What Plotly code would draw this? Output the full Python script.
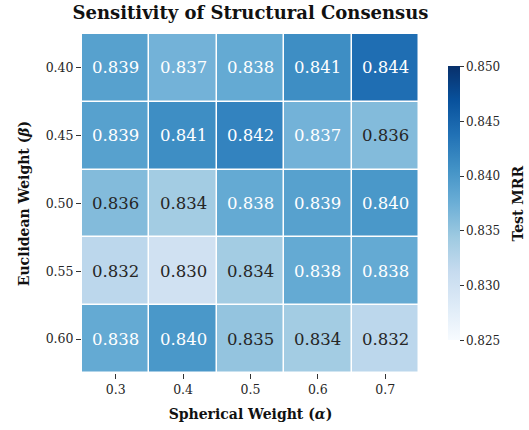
import plotly.graph_objects as go

alphas = ["0.3", "0.4", "0.5", "0.6", "0.7"]
betas = ["0.40", "0.45", "0.50", "0.55", "0.60"]
mrr = [
    [0.839, 0.837, 0.838, 0.841, 0.844],
    [0.839, 0.841, 0.842, 0.837, 0.836],
    [0.836, 0.834, 0.838, 0.839, 0.840],
    [0.832, 0.830, 0.834, 0.838, 0.838],
    [0.838, 0.840, 0.835, 0.834, 0.832],
]
zmin, zmax = 0.825, 0.850
cbar_ticks = [0.825, 0.830, 0.835, 0.840, 0.845, 0.850]

blues = [
    [0.0, "rgb(247,251,255)"], [0.125, "rgb(222,235,247)"], [0.25, "rgb(198,219,239)"],
    [0.375, "rgb(158,202,225)"], [0.5, "rgb(107,174,214)"], [0.625, "rgb(66,146,198)"],
    [0.75, "rgb(33,113,181)"], [0.875, "rgb(8,81,156)"], [1.0, "rgb(8,48,107)"],
]

FONT = "DejaVu Serif"
fig = go.Figure(go.Heatmap(
    z=mrr, x=alphas, y=betas, zmin=zmin, zmax=zmax, colorscale=blues,
    xgap=1.5, ygap=1.5, showscale=True,
    colorbar=dict(
        x=0.857, xanchor="left", xref="paper", y=0.5, yanchor="middle", len=0.808, thickness=12,
        xpad=0, ypad=0,
        outlinewidth=0, ticks="outside", ticklen=4, tickcolor="#333",
        tickvals=cbar_ticks, ticktext=[f"{t:.3f}" for t in cbar_ticks],
        tickfont=dict(family=FONT, size=12, color="#262626"),
    ),
    hoverinfo="skip",
))

for i, b in enumerate(betas):
    for j, a in enumerate(alphas):
        v = mrr[i][j]
        fig.add_annotation(x=j, y=i, text=f"{v:.3f}", showarrow=False,
                           font=dict(family=FONT, size=16.5,
                                     color="white" if v > 0.8365 else "#262626"))

fig.add_annotation(text="<b>Test MRR</b>", xref="paper", yref="paper", x=1.019, y=0.5,
                   textangle=-90, showarrow=False, xanchor="center", yanchor="middle",
                   font=dict(family=FONT, size=14, color="#111"))

fig.update_layout(
    width=529, height=430, paper_bgcolor="white", plot_bgcolor="white",
    margin=dict(l=82, r=20, t=34, b=57, autoexpand=False),
    title=dict(text="<b>Sensitivity of Structural Consensus</b>", x=0.4735, xref="container", xanchor="center",
               y=0.985, yanchor="top", font=dict(family=FONT, size=18, color="#111")),
    font=dict(family=FONT, color="#262626"),
)
fig.update_xaxes(type="category", domain=[0, 0.789],
                 title=dict(text="<b>Spherical Weight (<i>α</i>)</b>", font=dict(family=FONT, size=14, color="#111"), standoff=13),
                 ticks="outside", ticklen=5, tickcolor="#333", tickfont=dict(family=FONT, size=12.5),
                 showgrid=False, zeroline=False, showline=False)
fig.update_yaxes(type="category", categoryorder="array", categoryarray=betas, autorange="reversed",
                 title=dict(text="<b>Euclidean Weight (<i>β</i>)</b>", font=dict(family=FONT, size=14, color="#111"), standoff=12),
                 ticks="outside", ticklen=5, tickcolor="#333", tickfont=dict(family=FONT, size=12.5),
                 showgrid=False, zeroline=False, showline=False)

fig.write_html("out.html", config={"displayModeBar": False},
               post_script="document.body.style.margin='0';")
